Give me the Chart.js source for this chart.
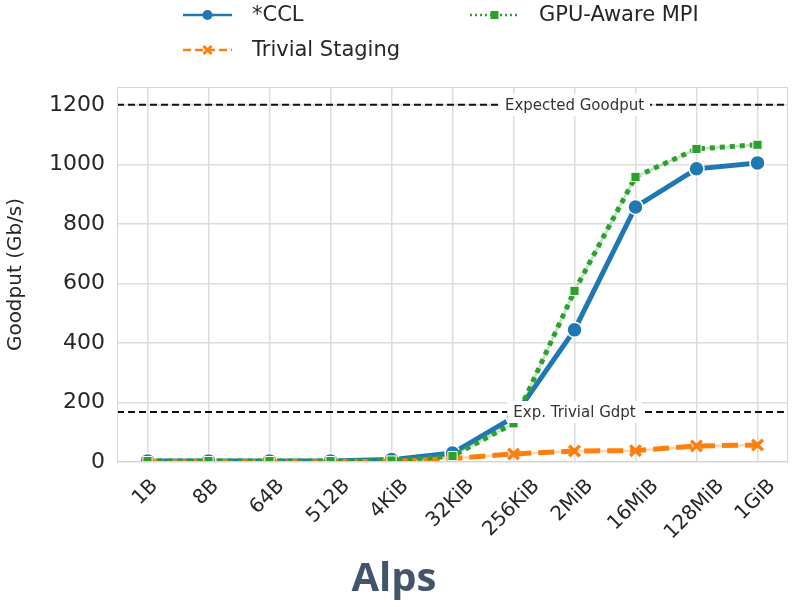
<!DOCTYPE html>
<html><head><meta charset="utf-8">
<script src="https://cdn.jsdelivr.net/npm/chart.js@4.4.1/dist/chart.umd.min.js"></script>
<style>html,body{margin:0;padding:0;background:#fff}#wrap{width:792px;height:607px}</style>
</head><body><div id="wrap"><canvas id="c" width="792" height="607"></canvas></div>
<script>
const sizes = ['1B','8B','64B','512B','4KiB','32KiB','256KiB','2MiB','16MiB','128MiB','1GiB'];
const ccl = [3,3,3,3,8,30,150,444,857,985,1005];
const trivial = [1,1,1,1,2,12,27,37,38,54,57];
const gpuMpi = [3,3,3,3,5,20,130,575,958,1052,1066];
const yTicks = [0,200,400,600,800,1000,1200];
const refValues = [1200,168];
const refLabels = ['Expected Goodput','Exp. Trivial Gdpt'];
const seriesNames = ['*CCL','Trivial Staging','GPU-Aware MPI'];

const BLUE='#1f77b4', ORANGE='#ff7f0e', GREEN='#2ca02c';
const FONT='DejaVu Sans';

const refPlugin = {
  id:'refs',
  afterDatasetsDraw(chart){
    const {ctx, chartArea:a, scales:{x,y}} = chart;
    ctx.save();
    refValues.forEach((v,i)=>{
      const py = y.getPixelForValue(v);
      ctx.strokeStyle='#111'; ctx.lineWidth=2; ctx.setLineDash([7,4]);
      ctx.beginPath(); ctx.moveTo(a.left,py); ctx.lineTo(a.right,py); ctx.stroke();
      ctx.setLineDash([]);
      ctx.font='15px "'+FONT+'"';
      const t=refLabels[i]; const w=ctx.measureText(t).width;
      const cx = x.getPixelForValue(7);
      ctx.fillStyle='#fff'; ctx.fillRect(cx-w/2-6, py-11, w+12, 22);
      ctx.fillStyle='#333'; ctx.textAlign='center'; ctx.textBaseline='middle';
      ctx.fillText(t,cx,py+1);
    });
    ctx.restore();
  },
  afterDraw(chart){
    const {ctx, chartArea:a, scales:{x}} = chart;
    ctx.save();
    ctx.strokeStyle='#d4d4d4'; ctx.lineWidth=1;
    ctx.strokeRect(a.left+0.5,a.top+0.5,a.right-a.left-1,a.bottom-a.top-1);
    // x tick labels, rotated 45deg, centred on tick (matplotlib ha=center)
    ctx.font='20px "'+FONT+'"'; ctx.fillStyle='#262626';
    ctx.textAlign='center'; ctx.textBaseline='middle';
    chart.data.labels.forEach((lab,i)=>{
      const px = x.getPixelForValue(i);
      const w = ctx.measureText(lab).width, h=23;
      const bh = (w+h)*Math.SQRT1_2;
      ctx.save();
      ctx.translate(px-2, a.bottom+13+bh/2);
      ctx.rotate(-Math.PI/4);
      ctx.fillText(lab,0,0);
      ctx.restore();
    });
    // legend
    const items=[
      {x:183,y:15,name:seriesNames[0],color:BLUE,dash:[],shape:'circle'},
      {x:183,y:50,name:seriesNames[1],color:ORANGE,dash:[8,4],shape:'x'},
      {x:470,y:15,name:seriesNames[2],color:GREEN,dash:[2,3],shape:'rect'}
    ];
    items.forEach(it=>{
      ctx.strokeStyle=it.color; ctx.lineWidth=2.5; ctx.setLineDash(it.dash);
      ctx.beginPath(); ctx.moveTo(it.x,it.y); ctx.lineTo(it.x+49,it.y); ctx.stroke();
      ctx.setLineDash([]);
      const mx=it.x+24.5;
      ctx.fillStyle=it.color;
      if(it.shape==='circle'){ctx.beginPath();ctx.arc(mx,it.y,5,0,Math.PI*2);ctx.fill();}
      else if(it.shape==='rect'){ctx.fillRect(mx-4,it.y-4,8,8);}
      else {ctx.lineWidth=3;ctx.beginPath();ctx.moveTo(mx-4,it.y-4);ctx.lineTo(mx+4,it.y+4);ctx.moveTo(mx+4,it.y-4);ctx.lineTo(mx-4,it.y+4);ctx.stroke();}
      ctx.fillStyle='#262626'; ctx.font='21px "'+FONT+'"'; ctx.textAlign='left'; ctx.textBaseline='middle';
      ctx.fillText(it.name, it.x+69, it.y+1);
    });
    ctx.restore();
  }
};

new Chart(document.getElementById('c'),{
  type:'line',
  data:{labels:sizes,datasets:[
    {label:seriesNames[2],data:gpuMpi,borderColor:GREEN,backgroundColor:GREEN,borderWidth:5,borderDash:[5,5],borderCapStyle:'butt',
     pointStyle:'rect',pointRadius:6.5,pointBackgroundColor:GREEN,pointBorderColor:'#fff',pointBorderWidth:1,order:0,tension:0},
    {label:seriesNames[1],data:trivial,borderColor:ORANGE,backgroundColor:ORANGE,borderWidth:5,borderDash:[16,7],borderCapStyle:'butt',
     pointStyle:'crossRot',pointRadius:7.5,pointBorderColor:ORANGE,pointBorderWidth:3.5,order:1,tension:0},
    {label:seriesNames[0],data:ccl,borderColor:BLUE,backgroundColor:BLUE,borderWidth:5,
     pointStyle:'circle',pointRadius:7.5,pointBackgroundColor:BLUE,pointBorderColor:'#fff',pointBorderWidth:1.5,order:2,tension:0},
    {label:'_g',data:gpuMpi,borderColor:'rgba(44,160,44,0.3)',borderWidth:2.5,pointRadius:0,order:3},
    {label:'_o',data:trivial,borderColor:'rgba(255,127,14,0.3)',borderWidth:2.5,pointRadius:0,order:4}
  ]},
  options:{
    responsive:false,animation:false,
    layout:{autoPadding:false,padding:{top:87,right:4,left:0,bottom:0}},
    plugins:{legend:{display:false},tooltip:{enabled:false},
      title:{display:true,position:'bottom',text:'Alps',color:'#44546A',font:{family:'Open Sans',size:40,weight:'bold'},padding:{top:15,bottom:3}}},
    scales:{
      x:{offset:true,grid:{color:'#dcdcdc',lineWidth:1.5,drawTicks:false,offset:false},border:{display:false},
        ticks:{display:false},
        afterFit(s){s.height=79; s.paddingLeft=0; s.paddingRight=0;}},
      y:{min:0,max:1260,afterBuildTicks(s){s.ticks=yTicks.map(v=>({value:v}));},
        grid:{color:'#dcdcdc',lineWidth:1.5,drawTicks:false},border:{display:false},
        ticks:{color:'#262626',font:{family:FONT,size:22},padding:12,callback:(v)=>String(v)},
        title:{display:true,text:'Goodput (Gb/s)',color:'#262626',font:{family:FONT,size:20},padding:{bottom:4}},
        afterFit(s){s.width=117;}}
    }
  },
  plugins:[refPlugin]
});
</script></body></html>
